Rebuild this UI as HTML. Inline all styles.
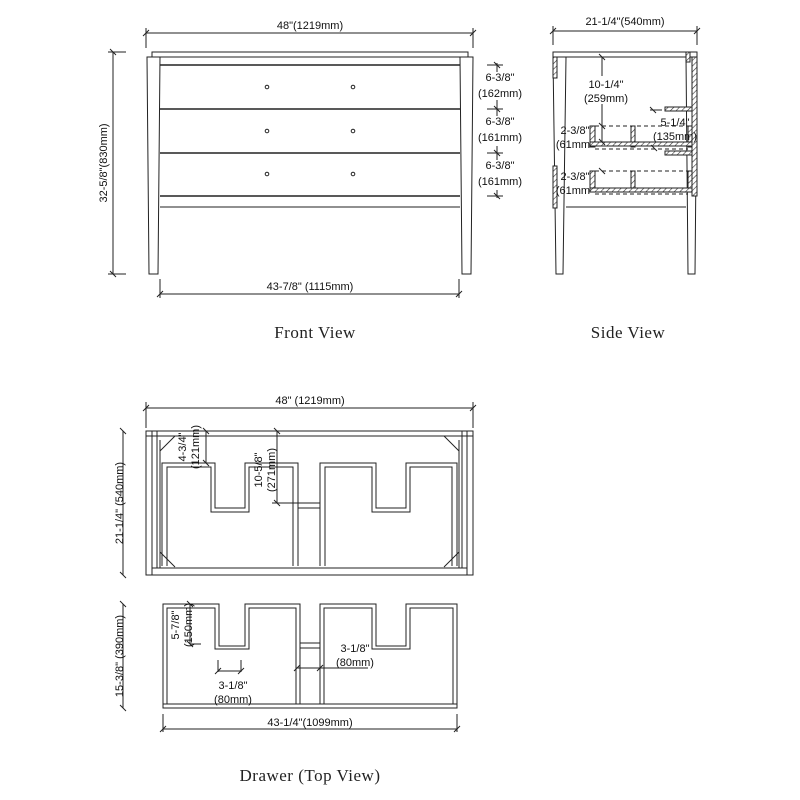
<!DOCTYPE html>
<html><head><meta charset="utf-8"><style>
html,body{margin:0;padding:0;background:#fff}
svg{display:block}
.t{font-family:"Liberation Sans",sans-serif;font-size:11px;fill:#111}
.s{font-family:"Liberation Serif",serif;font-size:17px;fill:#222;letter-spacing:0.5px}
</style></head><body>
<svg width="800" height="800" viewBox="0 0 800 800" xmlns="http://www.w3.org/2000/svg">
<defs>
<pattern id="h" width="4" height="4" patternUnits="userSpaceOnUse" patternTransform="rotate(45)">
<rect width="4" height="4" fill="#fff"/><line x1="0" y1="0" x2="0" y2="4" stroke="#333" stroke-width="1.2"/>
</pattern>
</defs>
<g fill="none" stroke="#222" stroke-width="1">
<!-- FRONT VIEW -->
<rect x="152" y="52" width="316" height="5"/>
<polygon points="147,57 160,57 158,274 149,274"/>
<polygon points="460,57 473,57 471,274 462,274"/>
<line x1="160" y1="57" x2="460" y2="57"/>
<line x1="160" y1="207" x2="460" y2="207"/>
<g stroke-width="1.6">
<line x1="160" y1="65" x2="460" y2="65"/><line x1="160" y1="109" x2="460" y2="109"/>
<line x1="160" y1="153" x2="460" y2="153"/><line x1="160" y1="196" x2="460" y2="196"/>
</g>
<g r="1.8"><circle cx="267" cy="87" r="1.8"/><circle cx="353" cy="87" r="1.8"/><circle cx="267" cy="131" r="1.8"/><circle cx="353" cy="131" r="1.8"/><circle cx="267" cy="174" r="1.8"/><circle cx="353" cy="174" r="1.8"/></g>
<!-- dims front -->
<line x1="146" y1="33" x2="473" y2="33"/><line x1="146" y1="28" x2="146" y2="48"/><line x1="473" y1="28" x2="473" y2="48"/>
<line x1="143" y1="36" x2="149" y2="30"/><line x1="470" y1="36" x2="476" y2="30"/>
<line x1="113" y1="52" x2="113" y2="274"/><line x1="108" y1="52" x2="126" y2="52"/><line x1="108" y1="274" x2="126" y2="274"/>
<line x1="110" y1="49" x2="116" y2="55"/><line x1="110" y1="271" x2="116" y2="277"/>
<line x1="160" y1="294" x2="459" y2="294"/><line x1="160" y1="279" x2="160" y2="298"/><line x1="459" y1="279" x2="459" y2="298"/>
<line x1="157" y1="297" x2="163" y2="291"/><line x1="456" y1="297" x2="462" y2="291"/>
<line x1="497" y1="63" x2="497" y2="72"/><line x1="497" y1="100" x2="497" y2="116"/><line x1="497" y1="146" x2="497" y2="160"/><line x1="497" y1="190" x2="497" y2="198"/>
<line x1="487" y1="65" x2="503" y2="65"/><line x1="487" y1="109" x2="503" y2="109"/><line x1="487" y1="153" x2="503" y2="153"/><line x1="487" y1="196" x2="503" y2="196"/>
<line x1="494" y1="62" x2="500" y2="68"/><line x1="494" y1="106" x2="500" y2="112"/><line x1="494" y1="150" x2="500" y2="156"/><line x1="494" y1="193" x2="500" y2="199"/>

<!-- SIDE VIEW -->
<rect x="553" y="52" width="144" height="5"/>
<polygon points="553,57 566,57 563,274 556,274"/>
<polygon points="686,57 697,57 695,274 688,274"/>
<line x1="566" y1="207" x2="686" y2="207"/>
<line x1="553" y1="31" x2="697" y2="31"/><line x1="553" y1="26" x2="553" y2="45"/><line x1="697" y1="26" x2="697" y2="45"/>
<line x1="550" y1="34" x2="556" y2="28"/><line x1="694" y1="34" x2="700" y2="28"/>
<g fill="url(#h)">
<rect x="553" y="57" width="4" height="21"/><rect x="553" y="166" width="4" height="42"/>
<rect x="686" y="52" width="4" height="10"/><rect x="692" y="57" width="5" height="139"/>
<rect x="665" y="107" width="27" height="4"/><rect x="665" y="151" width="27" height="4"/>
<rect x="590" y="126" width="5" height="21"/><rect x="631" y="126" width="4" height="21"/><rect x="688" y="126" width="4" height="21"/>
<rect x="590" y="142" width="102" height="4"/>
<rect x="590" y="171" width="5" height="21"/><rect x="631" y="171" width="4" height="21"/><rect x="688" y="171" width="4" height="21"/>
<rect x="590" y="188" width="102" height="4"/>
</g>
<g stroke-dasharray="4,3"><line x1="595" y1="126" x2="688" y2="126"/><line x1="595" y1="171" x2="688" y2="171"/><line x1="595" y1="149" x2="688" y2="149"/><line x1="595" y1="194" x2="688" y2="194"/></g>
<line x1="602" y1="57" x2="602" y2="76"/><line x1="602" y1="104" x2="602" y2="142"/>
<line x1="599" y1="54" x2="605" y2="60"/><line x1="599" y1="139" x2="605" y2="145"/>
<line x1="599" y1="123" x2="605" y2="129"/><line x1="599" y1="168" x2="605" y2="174"/>
<line x1="650" y1="110" x2="662" y2="110"/><line x1="650" y1="107" x2="656" y2="113"/><line x1="651" y1="145" x2="657" y2="151"/>

<!-- TOP VIEW (cabinet) -->
<line x1="146" y1="408" x2="473" y2="408"/><line x1="146" y1="402" x2="146" y2="428"/><line x1="473" y1="402" x2="473" y2="428"/>
<line x1="143" y1="411" x2="149" y2="405"/><line x1="470" y1="411" x2="476" y2="405"/>
<rect x="146" y="431" width="327" height="144"/>
<line x1="146" y1="436" x2="473" y2="436"/><line x1="152" y1="568" x2="467" y2="568"/>
<line x1="152" y1="431" x2="152" y2="575"/><line x1="157" y1="431" x2="157" y2="568"/><line x1="160" y1="440" x2="160" y2="568"/>
<line x1="467" y1="431" x2="467" y2="575"/><line x1="462" y1="431" x2="462" y2="568"/><line x1="459" y1="440" x2="459" y2="568"/>
<line x1="160" y1="451" x2="175" y2="436"/><line x1="444" y1="436" x2="459" y2="451"/>
<line x1="160" y1="552" x2="175" y2="567"/><line x1="444" y1="567" x2="459" y2="552"/>
<path d="M162,566 V463 H215 V508 H245 V463 H298 V566"/>
<path d="M167,566 V467 H211 V512 H249 V467 H293 V566"/>
<path d="M320,566 V463 H376 V508 H406 V463 H457 V566"/>
<path d="M325,566 V467 H372 V512 H410 V467 H452 V566"/>
<line x1="298" y1="503" x2="320" y2="503"/><line x1="298" y1="508" x2="320" y2="508"/>
<line x1="123" y1="431" x2="123" y2="575"/><line x1="120" y1="428" x2="126" y2="434"/><line x1="120" y1="572" x2="126" y2="578"/>
<line x1="206" y1="431" x2="206" y2="463"/><line x1="203" y1="428" x2="209" y2="434"/><line x1="203" y1="460" x2="209" y2="466"/>
<line x1="277" y1="431" x2="277" y2="503"/><line x1="274" y1="428" x2="280" y2="434"/><line x1="274" y1="500" x2="280" y2="506"/><line x1="272" y1="503" x2="298" y2="503"/>

<!-- DRAWER TOP VIEW -->
<path d="M163,708 V604 H219 V646 H245 V604 H300 V704"/>
<path d="M167,704 V608 H215 V649 H249 V608 H296 V704"/>
<path d="M320,704 V604 H376 V646 H406 V604 H457 V708"/>
<path d="M324,704 V608 H372 V649 H410 V608 H453 V704"/>
<rect x="163" y="704" width="294" height="4"/>
<line x1="300" y1="643" x2="320" y2="643"/><line x1="300" y1="648" x2="320" y2="648"/>
<line x1="123" y1="604" x2="123" y2="708"/><line x1="120" y1="601" x2="126" y2="607"/><line x1="120" y1="705" x2="126" y2="711"/>
<line x1="190" y1="604" x2="190" y2="644"/><line x1="187" y1="601" x2="193" y2="607"/><line x1="187" y1="641" x2="193" y2="647"/><line x1="190" y1="644" x2="201" y2="644"/>
<line x1="218" y1="660" x2="218" y2="672"/><line x1="241" y1="660" x2="241" y2="672"/><line x1="218" y1="671" x2="241" y2="671"/>
<line x1="215" y1="674" x2="221" y2="668"/><line x1="238" y1="674" x2="244" y2="668"/>
<line x1="297" y1="668" x2="368" y2="668"/><line x1="294" y1="671" x2="300" y2="665"/><line x1="317" y1="671" x2="323" y2="665"/>
<line x1="163" y1="714" x2="163" y2="732"/><line x1="457" y1="714" x2="457" y2="732"/><line x1="163" y1="729" x2="457" y2="729"/>
<line x1="160" y1="732" x2="166" y2="726"/><line x1="454" y1="732" x2="460" y2="726"/>
</g>

<!-- texts -->
<text class="t" x="310" y="29" text-anchor="middle">48"(1219mm)</text>
<text class="t" transform="translate(107,163) rotate(-90)" text-anchor="middle">32-5/8"(830mm)</text>
<text class="t" x="310" y="290" text-anchor="middle">43-7/8" (1115mm)</text>
<g class="t" text-anchor="middle">
<text x="500" y="81">6-3/8"</text><text x="500" y="97">(162mm)</text>
<text x="500" y="125">6-3/8"</text><text x="500" y="141">(161mm)</text>
<text x="500" y="169">6-3/8"</text><text x="500" y="185">(161mm)</text>
</g>
<text class="s" x="315" y="338" text-anchor="middle">Front View</text>
<text class="s" x="628" y="338" text-anchor="middle">Side View</text>
<g class="t" text-anchor="middle">
<text x="625" y="25">21-1/4"(540mm)</text>
<text x="606" y="88">10-1/4"</text><text x="606" y="102">(259mm)</text>
<text x="575" y="134">2-3/8"</text><text x="573" y="148">(61mm</text>
<text x="675" y="126">5-1/4"</text><text x="675" y="140">(135mm)</text>
<text x="575" y="180">2-3/8"</text><text x="573" y="194">(61mm</text>
<text x="310" y="404">48" (1219mm)</text>
<text x="310" y="726">43-1/4"(1099mm)</text>
<text x="233" y="689">3-1/8"</text><text x="233" y="703">(80mm)</text>
<text x="355" y="652">3-1/8"</text><text x="355" y="666">(80mm)</text>
</g>
<text class="t" transform="translate(123,503) rotate(-90)" text-anchor="middle">21-1/4" (540mm)</text>
<text class="t" transform="translate(186,447) rotate(-90)" text-anchor="middle">4-3/4"</text>
<text class="t" transform="translate(199,447) rotate(-90)" text-anchor="middle">(121mm)</text>
<text class="t" transform="translate(262,470) rotate(-90)" text-anchor="middle">10-5/8"</text>
<text class="t" transform="translate(275,470) rotate(-90)" text-anchor="middle">(271mm)</text>
<text class="t" transform="translate(123,656) rotate(-90)" text-anchor="middle">15-3/8" (390mm)</text>
<text class="t" transform="translate(179,625) rotate(-90)" text-anchor="middle">5-7/8"</text>
<text class="t" transform="translate(192,625) rotate(-90)" text-anchor="middle">(150mm)</text>
<text class="s" x="310" y="781" text-anchor="middle">Drawer (Top View)</text>
</svg>
</body></html>
